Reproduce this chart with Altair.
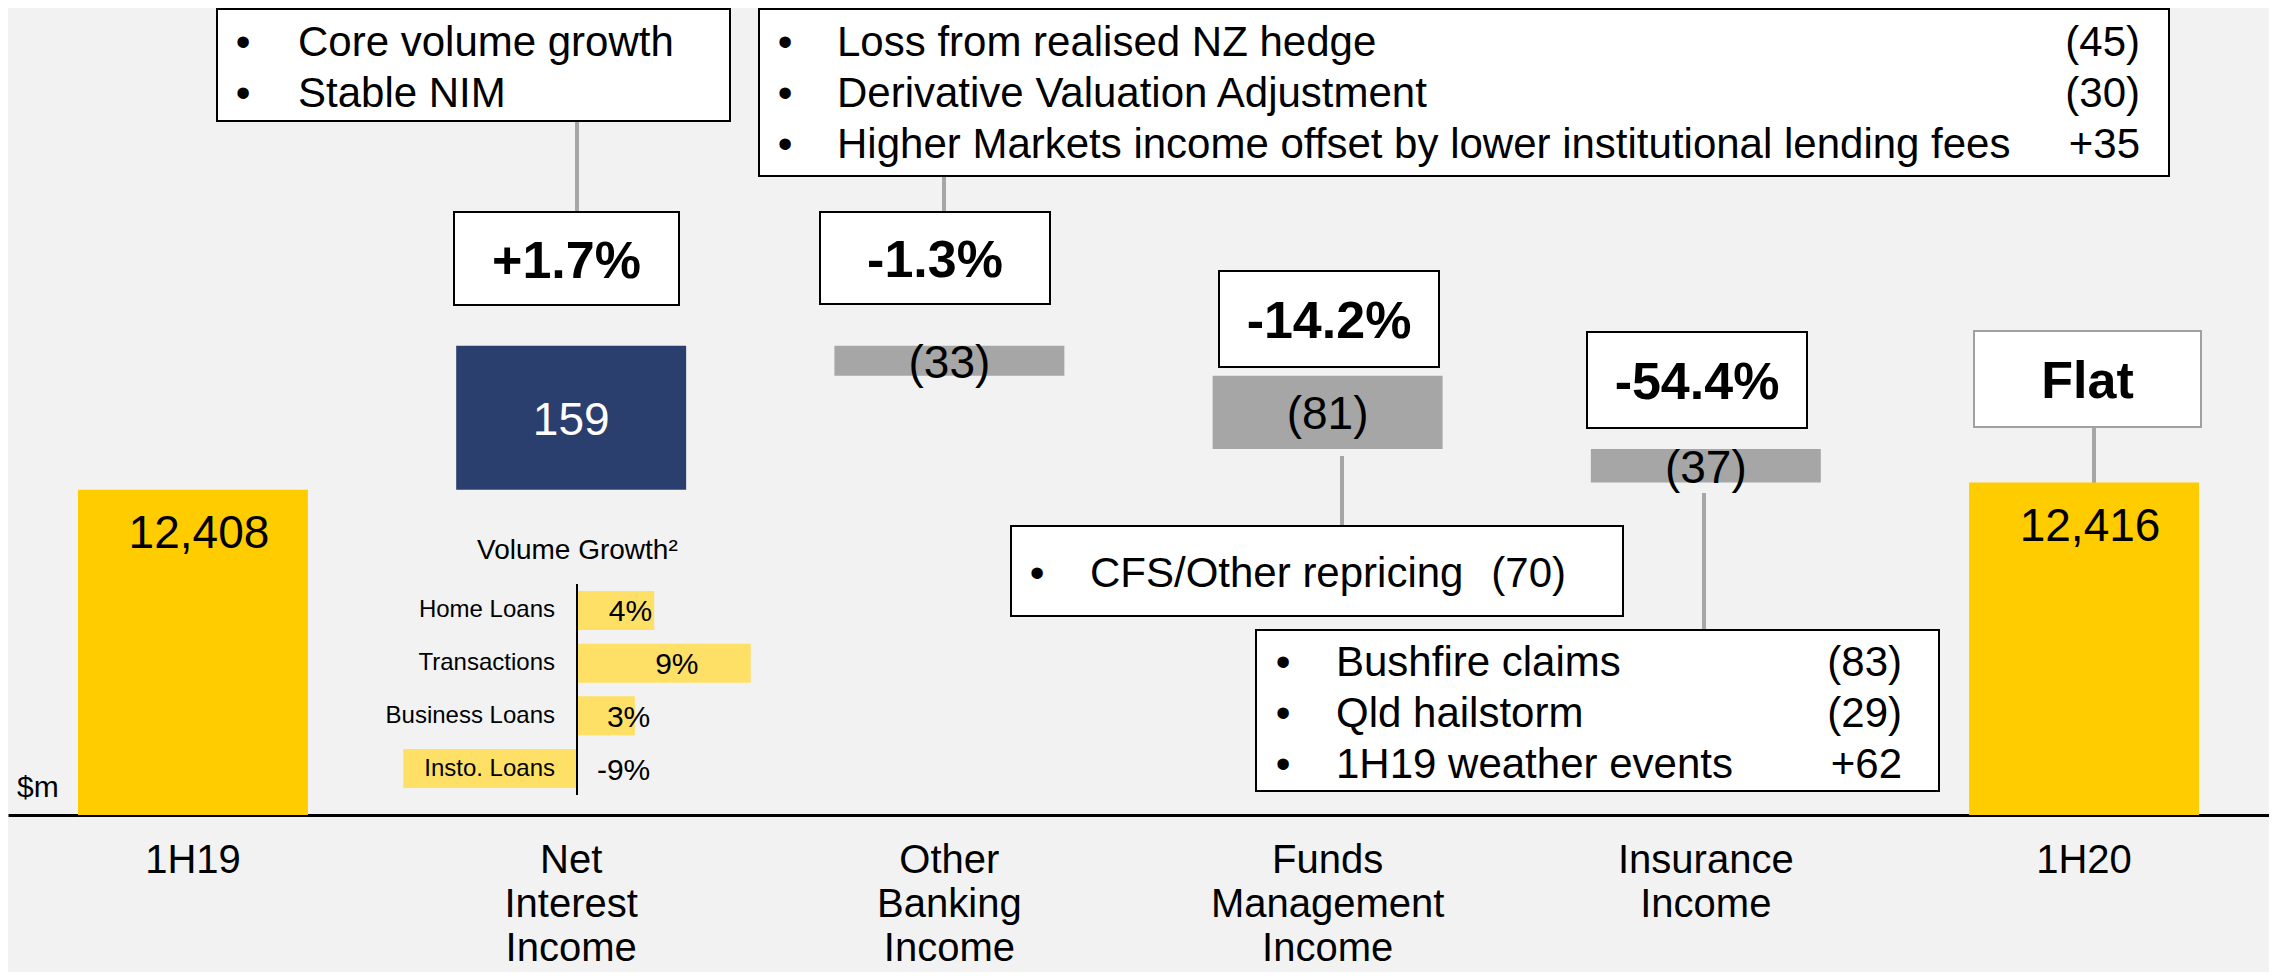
import altair as alt
import pandas as pd

FONT = "Liberation Sans"
YELLOW = "#FFCC00"
NAVY = "#2B3F6E"
GREY = "#A6A6A6"
LIGHT_YELLOW = "#FFE066"
BG = "#F2F2F2"

# ---------------- data ----------------
categories = ["1H19", "Net Interest Income", "Other Banking Income",
              "Funds Management Income", "Insurance Income", "1H20"]
values = [12408, 159, -33, -81, -37, 12416]
kinds = ["total", "increase", "decrease", "decrease", "decrease", "total"]
value_labels = ["12,408", "159", "(33)", "(81)", "(37)", "12,416"]

pct_labels = ["+1.7%", "-1.3%", "-14.2%", "-54.4%", "Flat"]

nii_notes = ["Core volume growth", "Stable NIM"]
obi_notes = ["Loss from realised NZ hedge", "Derivative Valuation Adjustment",
             "Higher Markets income offset by lower institutional lending fees"]
obi_amounts = ["(45)", "(30)", "+35"]
fm_notes = ["CFS/Other repricing"]
fm_amounts = ["(70)"]
ins_notes = ["Bushfire claims", "Qld hailstorm", "1H19 weather events"]
ins_amounts = ["(83)", "(29)", "+62"]

vg_title = "Volume Growth\u00b2"
vg_segments = ["Home Loans", "Transactions", "Business Loans", "Insto. Loans"]
vg_growth = [4, 9, 3, -9]
vg_labels = ["4%", "9%", "3%", "-9%"]

unit_label = "$m"

# ---------------- layout (pixels inside the plot area) ----------------
W, H = 2261, 807
PCT_BOXES = [(446, 671, 204, 297), (812, 1042, 204, 296), (1211, 1431, 263, 359),
             (1579, 1799, 324, 420), (1966, 2193, 323, 419)]
PCT_BORDERS = ["#000000", "#000000", "#000000", "#000000", "#A0A0A0"]
NOTE_LAYOUT = [
    (nii_notes, None, (209, 722, 1, 113), 235, 290, None, 48),
    (obi_notes, obi_amounts, (751, 2161, 1, 168), 777, 829, 2132, 48),
    (fm_notes, fm_amounts, (1003, 1615, 518, 608), 1029, 1082, 1558, 579),
    (ins_notes, ins_amounts, (1248, 1931, 622, 783), 1275, 1328, 1894, 668),
]
LINE = 51
CONNECTORS = [(569, 113, 204), (936, 168, 204), (1334, 448, 518),
              (1696, 485, 622), (2086, 419, 475)]

# ---------------- waterfall table ----------------
rows = []
running = 0
for cat, v, k, lab in zip(categories, values, kinds, value_labels):
    if k == "total":
        start, end = 0, v
    else:
        start, end = running, running + v
    running = end
    rows.append({"cat": cat, "start": start, "end": end, "mid": (start + end) / 2,
                 "kind": k, "label": lab,
                 "tcolor": "#FFFFFF" if k == "increase" else "#000000"})
wf = pd.DataFrame(rows)

ydom = alt.Scale(domain=[12049, 12940], zero=False, nice=False)
x_wf = alt.X("cat:N", sort=categories,
             scale=alt.Scale(paddingInner=0.392, paddingOuter=0.185),
             axis=alt.Axis(title=None, labelExpr="split(datum.label, ' ')",
                           labelFont=FONT, labelFontSize=40, labelLineHeight=44,
                           labelBaseline="top", labelPadding=25, labelColor="#000000",
                           labelLimit=600, labelOverlap=False, labelAngle=0,
                           ticks=False, domainColor="#000000", domainWidth=3, grid=False))

bars = alt.Chart(wf).mark_bar(clip=True).encode(
    x=x_wf,
    y=alt.Y("start:Q", scale=ydom, axis=None),
    y2="end:Q",
    color=alt.Color("kind:N", scale=alt.Scale(domain=["total", "increase", "decrease"],
                                              range=[YELLOW, NAVY, GREY]), legend=None),
)
total_text = alt.Chart(wf).transform_filter("datum.kind == 'total'").mark_text(
    font=FONT, fontSize=46, baseline="alphabetic", dy=58, dx=6, color="#000000"
).encode(x=x_wf, y=alt.Y("end:Q", scale=ydom, axis=None), text="label:N")
delta_text = alt.Chart(wf).transform_filter("datum.kind != 'total'").mark_text(
    font=FONT, fontSize=46, baseline="alphabetic", dy=17
).encode(x=x_wf, y=alt.Y("mid:Q", scale=ydom, axis=None), text="label:N",
         color=alt.Color("tcolor:N", scale=None))
waterfall = alt.layer(bars, total_text, delta_text)

# ---------------- annotation tables ----------------
rect_rows = []
for (x0, x1, y0, y1), s in zip(PCT_BOXES, PCT_BORDERS):
    rect_rows.append({"x0": x0, "x1": x1, "y0": y0, "y1": y1, "stroke": s})
for _, _, (x0, x1, y0, y1), *_ in NOTE_LAYOUT:
    rect_rows.append({"x0": x0, "x1": x1, "y0": y0, "y1": y1, "stroke": "#000000"})
rect_df = pd.DataFrame(rect_rows)

pct_df = pd.DataFrame([{"x": (b[0] + b[1]) / 2, "y": (b[2] + b[3]) / 2 + 19, "text": t}
                       for b, t in zip(PCT_BOXES, pct_labels)])

left_rows, center_rows, right_rows = [], [], []
for notes, amounts, box, bx, tx, ax, base in NOTE_LAYOUT:
    for i, n in enumerate(notes):
        y = base + i * LINE
        center_rows.append({"x": bx, "y": y, "text": "\u2022", "size": 42})
        left_rows.append({"x": tx, "y": y, "text": n, "size": 42})
        if amounts:
            right_rows.append({"x": ax, "y": y, "text": amounts[i], "size": 42})
left_rows.append({"x": 9, "y": 789, "text": unit_label, "size": 30})
left_rows.append({"x": 469, "y": 551, "text": vg_title, "size": 28})
left_df = pd.DataFrame(left_rows)
center_df = pd.DataFrame(center_rows)
right_df = pd.DataFrame(right_rows)
conn_df = pd.DataFrame([{"x": c[0], "y0": c[1], "y1": c[2]} for c in CONNECTORS])

px = lambda f: alt.X(f, scale=None)
py = lambda f: alt.Y(f, scale=None)

connectors = alt.Chart(conn_df).mark_rule(color=GREY, strokeWidth=4).encode(
    x=px("x:Q"), y=py("y0:Q"), y2="y1:Q")
boxes = alt.Chart(rect_df).mark_rect(fill="#FFFFFF", strokeWidth=2).encode(
    x=px("x0:Q"), x2="x1:Q", y=py("y0:Q"), y2="y1:Q",
    stroke=alt.Stroke("stroke:N", scale=None))
pct_text = alt.Chart(pct_df).mark_text(font=FONT, fontSize=52, fontWeight="bold",
                                       align="center", baseline="alphabetic",
                                       color="#000000").encode(
    x=px("x:Q"), y=py("y:Q"), text="text:N")
left_text = alt.Chart(left_df).mark_text(font=FONT, align="left", baseline="alphabetic",
                                         color="#000000").encode(
    x=px("x:Q"), y=py("y:Q"), text="text:N", size=alt.Size("size:Q", scale=None))
center_text = alt.Chart(center_df).mark_text(font=FONT, align="center", baseline="alphabetic",
                                             color="#000000").encode(
    x=px("x:Q"), y=py("y:Q"), text="text:N", size=alt.Size("size:Q", scale=None))
right_text = alt.Chart(right_df).mark_text(font=FONT, align="right", baseline="alphabetic",
                                           color="#000000").encode(
    x=px("x:Q"), y=py("y:Q"), text="text:N", size=alt.Size("size:Q", scale=None))

# ---------------- volume growth inset ----------------
vg = pd.DataFrame({"seg": vg_segments, "g": vg_growth, "label": vg_labels})
vg_x_scale = alt.Scale(domain=[-10, 10], range=[376, 762], nice=False)
vg_y = alt.Y("seg:N", sort=vg_segments, axis=None,
             scale=alt.Scale(range=[583, 780], paddingInner=0.26, paddingOuter=0))
vg_bars = alt.Chart(vg).mark_bar(color=LIGHT_YELLOW).encode(
    x=alt.X("g:Q", scale=vg_x_scale, axis=None), y=vg_y)
vg_axis = alt.Chart(vg).mark_rule(color="#000000", strokeWidth=2).encode(
    x=alt.X(datum=0, scale=vg_x_scale, axis=None), y=alt.value(576), y2=alt.value(787))
vg_cat = alt.Chart(vg).mark_text(font=FONT, fontSize=24, align="right", baseline="middle",
                                 color="#000000").encode(
    x=alt.value(547), y=vg_y, text="seg:N")
vg_val = alt.Chart(vg).transform_calculate(
    lx="min(max(datum.g, 3.9), 6.4)"
).mark_text(font=FONT, fontSize=30, align="right", baseline="middle", dx=-2, dy=2,
            color="#000000").encode(
    x=alt.X("lx:Q", scale=vg_x_scale, axis=None), y=vg_y, text="label:N")
inset = alt.layer(vg_bars, vg_axis, vg_cat, vg_val)

chart = alt.layer(
    connectors, boxes, pct_text, left_text, center_text, right_text, waterfall, inset
).resolve_scale(
    x="independent", y="independent"
).properties(
    width=W, height=H,
    autosize=alt.AutoSizeParams(type="none"),
    padding={"left": 0, "top": 0, "right": 0, "bottom": 157},
    background=BG,
).configure_view(strokeWidth=0)

chart.save("out.html", embed_options={"renderer": "svg", "actions": False})
